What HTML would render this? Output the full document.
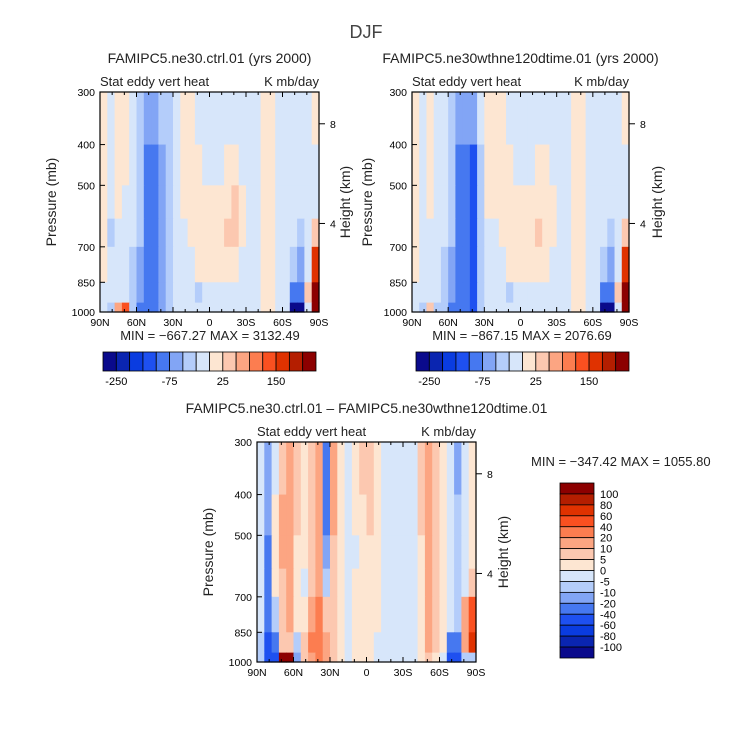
<!DOCTYPE html>
<html><head><meta charset="utf-8">
<style>
html,body{margin:0;padding:0;background:#fff;}
svg{display:block;font-family:"Liberation Sans",sans-serif;}
</style></head>
<body>
<svg id="chart" width="733" height="754" viewBox="0 0 733 754" xmlns="http://www.w3.org/2000/svg">
<text x="366" y="38" font-size="18" text-anchor="middle" fill="#444">DJF</text>
</svg>
<script>
// ---- data ----
const lats=[87,81,75,69,63,57,51,45,39,33,27,21,15,9,3,-3,-9,-15,-21,-27,-33,-39,-45,-51,-57,-63,-69,-75,-81,-87];
const pBounds=[300,400,500,600,700,850,950,1000];
const levelsAbs=[-250,-200,-150,-100,-75,-50,-25,0,25,50,75,100,150,200,250];
const levelsDiff=[-100,-80,-60,-40,-20,-10,-5,0,5,10,20,40,60,80,100];
const absTicks=["-250","-75","25","150"];
const diffTicks=["100","80","60","40","20","10","5","0","-5","-10","-20","-40","-60","-80","-100"];
const ctrl=[
[10,-10,10,10,-10,-40,-60,-60,-40,-30,-10,10,10,-10,-10,-10,-10,-10,-10,-10,-10,-10,10,10,-10,-10,-10,-10,-10,10],
[10,-10,10,10,-10,-30,-80,-90,-70,-40,-10,10,10,10,-10,-10,-10,10,10,-10,-10,-10,10,10,-10,-10,-10,-10,-10,-10],
[10,-10,10,-10,-10,-30,-80,-90,-60,-30,-10,10,10,10,10,10,10,20,30,10,-10,-10,10,10,-10,-10,-10,-10,-10,-10],
[10,-30,-10,-10,-10,-40,-80,-90,-60,-30,-10,-10,10,10,10,10,20,30,30,10,-10,-10,10,10,-10,-10,-10,-30,-10,30],
[10,-10,-10,-10,-30,-60,-80,-80,-60,-30,-10,-10,-10,10,10,10,10,10,10,-10,-10,-10,10,10,-10,-10,-40,-60,-20,150],
[-10,-10,-10,-10,-30,-60,-80,-80,-60,-30,-10,-10,-10,-30,-10,-10,-10,-10,-10,-10,-10,-10,10,10,-10,-10,-80,-80,30,250],
[-10,-30,60,100,-30,-80,-90,-90,-60,-30,-10,-10,-10,-10,-10,-10,-10,-10,-10,-10,-10,-10,10,10,-10,-10,-300,-300,-10,260]];
const expt=[
[10,-10,10,-10,-10,-40,-60,-70,-60,-10,10,10,10,-10,-10,-10,-10,-10,-10,-10,-10,-10,10,10,-10,-10,-10,-10,-10,10],
[10,-10,10,-10,-10,-40,-80,-90,-110,-30,10,10,10,10,-10,-10,-10,10,10,-10,-10,-10,10,10,-10,-10,-10,-10,-10,-10],
[10,-10,10,-10,-10,-40,-80,-90,-110,-30,10,10,10,10,10,10,10,20,20,10,-10,-10,10,10,-10,-10,-10,-10,-10,-10],
[10,-10,-10,-10,-10,-40,-80,-90,-110,-30,-10,-10,10,10,10,10,20,30,20,10,-10,-10,10,10,-10,-10,-10,-30,-10,30],
[10,-10,-10,-10,-30,-60,-80,-90,-110,-40,-10,-10,-10,10,10,10,10,10,10,-10,-10,-10,10,10,-10,-10,-40,-60,-20,150],
[-10,-10,-10,-10,-30,-60,-80,-90,-110,-40,-10,-10,-10,-30,-10,-10,-10,-10,-10,-10,-10,-10,10,10,-10,-10,-80,-80,30,250],
[-10,-30,40,-30,-30,-80,-90,-100,-110,-40,-10,-10,-10,-10,-10,-10,-10,-10,-10,-10,-10,-10,10,10,-10,-10,-300,-300,-10,260]];
const diff=[
[-3,-12,-3,7,12,7,3,7,12,-30,12,3,-3,3,7,7,3,-3,-3,-3,-3,-3,7,12,7,3,-3,-12,-3,3],
[-3,-12,3,12,12,7,3,7,12,-30,12,3,-3,3,3,7,3,-3,-3,-3,-3,-3,7,12,7,3,-3,-7,-3,3],
[-3,-25,3,12,12,3,3,7,12,-12,8,3,-3,-3,3,3,3,-3,-3,-3,-3,-3,3,12,7,3,-3,-7,-3,3],
[-3,-25,3,7,12,3,-3,8,12,-7,7,3,-3,3,3,3,3,-3,-3,-3,-3,-3,3,12,7,3,-3,-7,-3,7],
[-3,-25,-7,7,12,3,3,12,22,7,7,3,-3,3,3,3,3,-3,-3,-3,-3,-3,3,12,7,3,-3,-7,12,45],
[-7,-45,-30,7,7,-7,7,22,30,12,7,3,-3,3,3,3,-3,-3,-3,-3,-3,-3,3,12,7,3,-25,-25,12,70],
[-7,-50,-50,110,110,-12,7,12,22,12,7,3,-3,3,3,3,-3,-3,-3,-3,-3,-3,3,7,3,-3,-50,-50,-7,-7]];
const colors=["#0a0a8c","#0a25b0","#0a3ce0","#1e50f0","#4678f0","#82a5f5","#b4cdfa","#d7e6fa","#fde6d2","#fcc8b0","#fca582","#fc7d50","#fa5020","#e03200","#b41e00","#8c0000"];
const xLabels=["90N","60N","30N","0","30S","60S","90S"];
const pTicks=[300,400,500,700,850,1000];
const hTicks=[[8,357],[4,616]];

const NS="http://www.w3.org/2000/svg";
const svg=document.getElementById('chart');
function mk(tag,attrs,parent){const e=document.createElementNS(NS,tag);for(const k in attrs)e.setAttribute(k,attrs[k]);(parent||svg).appendChild(e);return e;}
function classOf(v,levels){let i=0;for(const l of levels)if(v>=l)i++;return i;}

function panel(x0,y0,w,h,data,levels,name,title,ylx,hlx){
  const g=mk('g',{});
  
  
  const xS=lat=>x0+(90-lat)/180*w;
  const yS=p=>y0+h*Math.log(p/300)/Math.log(1000/300);
  for(let r=0;r<data.length;r++){
    for(let c=0;c<lats.length;c++){
      const xa=xS(lats[c]+3),xb=xS(lats[c]-3),ya=yS(pBounds[r]),yb=yS(pBounds[r+1]);
      const cell=mk('rect',{x:xa,y:ya,width:xb-xa+0.6,height:yb-ya+0.6,fill:colors[classOf(data[r][c],levels)]},g);
      
      
    }
  }
  mk('rect',{x:x0,y:y0,width:w,height:h,fill:'none',stroke:'#000','stroke-width':1.2},g);
  for(let d=0;d<=18;d++){
    const x=x0+d/18*w,len=d%3===0?5:3;
    mk('line',{x1:x,y1:y0+h,x2:x,y2:y0+h-len,stroke:'#000'},g);
    mk('line',{x1:x,y1:y0,x2:x,y2:y0+len,stroke:'#000'},g);
  }
  xLabels.forEach((t,i)=>{const tx=mk('text',{x:x0+i/6*w,y:y0+h+14,'font-size':10.5,'text-anchor':'middle'},g);tx.textContent=t;
    });
  pTicks.forEach(p=>{const y=yS(p);mk('line',{x1:x0,y1:y,x2:x0+5,y2:y,stroke:'#000'},g);
    const tx=mk('text',{x:x0-5,y:y+4,'font-size':10.5,'text-anchor':'end'},g);tx.textContent=p;
    });
  hTicks.forEach(([km,p])=>{const y=yS(p);mk('line',{x1:x0+w,y1:y,x2:x0+w+6,y2:y,stroke:'#000'},g);
    const tx=mk('text',{x:x0+w+11,y:y+4,'font-size':10.5},g);tx.textContent=km;
    });
  const t1=mk('text',{x:x0,y:y0-6,'font-size':13,fill:'#222'},g);t1.textContent='Stat eddy vert heat';
  
  const t2=mk('text',{x:x0+w,y:y0-6,'font-size':13,'text-anchor':'end',fill:'#222'},g);t2.textContent='K mb/day';
  
  const t3=mk('text',{x:x0+w/2,y:y0-29,'font-size':14,'text-anchor':'middle',fill:'#222'},g);t3.textContent=title;
  
  const yc=y0+h/2;
  const t4=mk('text',{x:ylx,y:yc,'font-size':14,'text-anchor':'middle',transform:`rotate(-90 ${ylx} ${yc})`,fill:'#222'},g);t4.textContent='Pressure (mb)';
  
  const t5=mk('text',{x:hlx,y:yc,'font-size':14,'text-anchor':'middle',transform:`rotate(-90 ${hlx} ${yc})`,fill:'#222'},g);t5.textContent='Height (km)';
  
}
function hbar(x0,y0,w,h,minmax,mx){
  const g=mk('g',{});
  
  
  const bw=w/colors.length;
  colors.forEach((c,i)=>{const r=mk('rect',{x:x0+i*bw,y:y0,width:bw,height:h,fill:c,stroke:'#000','stroke-width':0.8},g);
    });
  absTicks.forEach((t,i)=>{const b=1+4*i;const tx=mk('text',{x:x0+b*bw,y:y0+h+14,'font-size':11,'text-anchor':'middle'},g);tx.textContent=t;
    });
  const m=mk('text',{x:mx,y:y0-12,'font-size':13,'text-anchor':'middle',fill:'#222'},g);m.textContent=minmax;
  
}
function vbar(x0,y0,w,h){
  const g=mk('g',{});
  
  
  const bh=h/colors.length;
  colors.slice().reverse().forEach((c,i)=>{const r=mk('rect',{x:x0,y:y0+i*bh,width:w,height:bh,fill:c,stroke:'#000','stroke-width':0.8},g);
    });
  diffTicks.forEach((t,i)=>{const tx=mk('text',{x:x0+w+6,y:y0+(i+1)*bh+4,'font-size':11},g);tx.textContent=t;
    });
}
panel(100,92,219,220,ctrl,levelsAbs,'ctrl-panel','FAMIPC5.ne30.ctrl.01 (yrs 2000)',56,350);
panel(412,92,217,220,expt,levelsAbs,'exp-panel','FAMIPC5.ne30wthne120dtime.01 (yrs 2000)',372,662);
panel(257,442,219,220,diff,levelsDiff,'diff-panel','FAMIPC5.ne30.ctrl.01 – FAMIPC5.ne30wthne120dtime.01',213,508);
hbar(103,352,213,19,'MIN = −667.27   MAX = 3132.49',210);
hbar(416,352,213,19,'MIN = −867.15   MAX = 2076.69',522);
vbar(560,483,34,175);
const mm=mk('text',{x:531,y:466,'font-size':13,fill:'#222'});mm.textContent='MIN = −347.42   MAX = 1055.80';


</script>
</body></html>
